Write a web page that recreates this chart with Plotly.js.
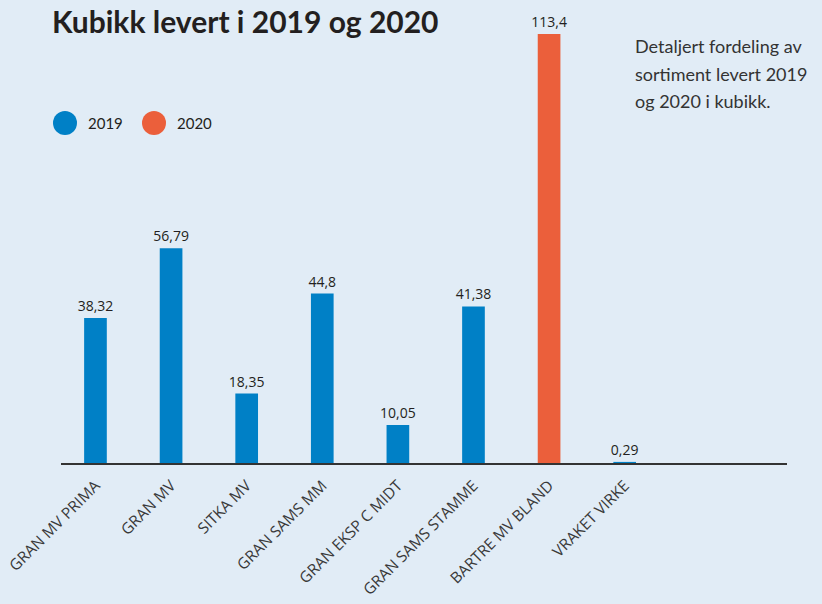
<!DOCTYPE html>
<html>
<head>
<meta charset="utf-8">
<script src="https://cdn.plot.ly/plotly-3.0.1.min.js"></script>
<style>
html,body{margin:0;padding:0;background:#E1ECF6;}
#chart{width:822px;height:604px;}
</style>
</head>
<body>
<div id="chart"></div>
<script>
const categories = ['GRAN MV PRIMA','GRAN MV','SITKA MV','GRAN SAMS MM','GRAN EKSP C MIDT','GRAN SAMS STAMME','BARTRE MV BLAND','VRAKET VIRKE'];
const values = [38.32, 56.79, 18.35, 44.8, 10.05, 41.38, 113.4, 0.29];
const deliveryYear = ['2019','2019','2019','2019','2019','2019','2020','2019'];
const years = ['2019','2020'];
const yearColors = {'2019':'#0080C6','2020':'#EB5F3B'};
const titleText = 'Kubikk levert i 2019 og 2020';
const noteLines = ['Detaljert fordeling av','sortiment levert 2019','og 2020 i kubikk.'];

const fmt = v => String(v).replace('.', ',');

const traces = years.map(yr => {
  const y = values.map((v,i) => deliveryYear[i] === yr ? v : null);
  return {
    type:'bar',
    name: yr,
    x: categories,
    y: y,
    text: y.map(v => v === null ? '' : fmt(v)),
    textposition:'outside',
    constraintext:'none',
    textfont:{family:'Open Sans, sans-serif', size:14, color:'#231F20'},
    cliponaxis:false,
    marker:{color: yearColors[yr]},
    width:0.3,
    showlegend:false,
    hoverinfo:'x+y'
  };
});

// plot area geometry (px)
const L = 61, R = 787, T = 20, B = 463;
const pw = R - L, ph = B - T;
const px = x => (x - L) / pw;
const py = y => (B - y) / ph;

const shapes = [];
const annotations = [];
const legendPos = [{cx:65, tx:86},{cx:154, tx:175}];
years.forEach((yr, k) => {
  const c = legendPos[k];
  shapes.push({type:'circle', xref:'paper', yref:'paper',
    x0: px(c.cx-12), x1: px(c.cx+12), y0: py(135), y1: py(111),
    fillcolor: yearColors[yr], line:{width:0}});
  annotations.push({xref:'paper', yref:'paper', x: px(c.tx), y: py(123),
    xanchor:'left', yanchor:'middle', text: yr, showarrow:false,
    font:{family:'Lato, sans-serif', size:15, color:'#231F20'}});
});
noteLines.forEach((t, i) => {
  annotations.push({xref:'paper', yref:'paper', x: px(633), y: py(46 + i*27.5),
    xanchor:'left', yanchor:'middle', text: t, showarrow:false,
    font:{family:'Lato, sans-serif', size:18, color:'#333333'}});
});

const layout = {
  width:822, height:604,
  paper_bgcolor:'#E1ECF6', plot_bgcolor:'#E1ECF6',
  margin:{l:L, r:822-R, t:T, b:604-B},
  title:{text:'<b>'+titleText+'</b>', xref:'container', yref:'container',
    x:52/822, xanchor:'left', y:1-22/604, yanchor:'middle',
    font:{family:'Lato, sans-serif', size:30, color:'#231F20'}},
  barmode:'overlay',
  xaxis:{type:'category', range:[-0.456, 9.147], showgrid:false, zeroline:false,
    showline:true, linecolor:'#333333', linewidth:1.5, ticks:'', tickangle:-45,
    tickfont:{family:'Open Sans, sans-serif', size:15.5, color:'#3a3a3a'},
    ticklabelstandoff:6},
  yaxis:{range:[0, ph/3.783], visible:false, showgrid:false, zeroline:false},
  shapes: shapes,
  annotations: annotations,
  showlegend:false
};

Plotly.newPlot('chart', traces, layout, {displayModeBar:false, staticPlot:true});
</script>
</body>
</html>
